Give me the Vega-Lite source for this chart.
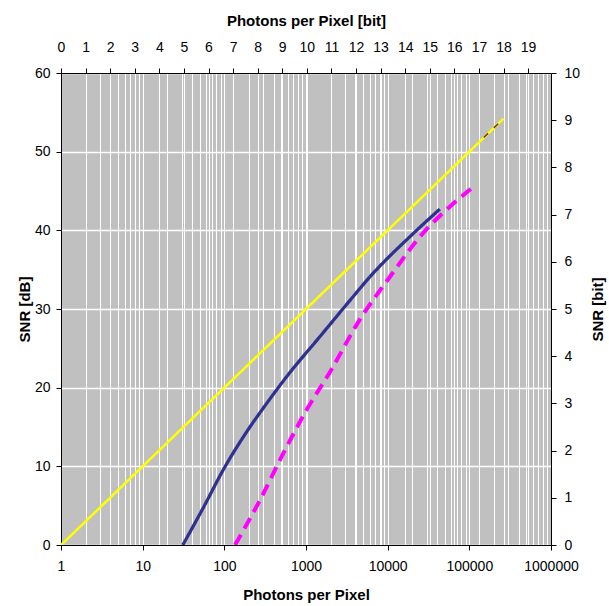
{
  "$schema": "https://vega.github.io/schema/vega-lite/v6.json",
  "width": 490,
  "height": 472,
  "autosize": {"type": "none"},
  "padding": {"left": 61, "top": 73, "right": 58, "bottom": 61},
  "background": "white",
  "config": {
    "view": {"fill": "#C0C0C0", "stroke": "black", "strokeWidth": 1},
    "axis": {
      "labelFont": "Liberation Sans",
      "titleFont": "Liberation Sans",
      "labelFontSize": 14,
      "titleFontSize": 15,
      "titleFontWeight": "bold",
      "labelColor": "black",
      "titleColor": "black",
      "domainColor": "black",
      "tickColor": "black",
      "labelFlush": false,
      "labelOverlap": false
    }
  },
  "datasets": {
    "curves": [
      {"series": "ideal", "N": 1, "dB": 0},
      {"series": "ideal", "N": 2, "dB": 3.0},
      {"series": "ideal", "N": 10, "dB": 10},
      {"series": "ideal", "N": 100, "dB": 20},
      {"series": "ideal", "N": 1000, "dB": 30},
      {"series": "ideal", "N": 10000, "dB": 40},
      {"series": "ideal", "N": 100000, "dB": 50},
      {"series": "ideal", "N": 262144, "dB": 54.2},
      {"series": "blue", "N": 31, "dB": 0},
      {"series": "blue", "N": 55, "dB": 4.7},
      {"series": "blue", "N": 100, "dB": 9.8},
      {"series": "blue", "N": 180, "dB": 14.1},
      {"series": "blue", "N": 330, "dB": 18.0},
      {"series": "blue", "N": 600, "dB": 21.6},
      {"series": "blue", "N": 1483, "dB": 26.5},
      {"series": "blue", "N": 3457, "dB": 31.1},
      {"series": "blue", "N": 6080, "dB": 34.1},
      {"series": "blue", "N": 20600, "dB": 39.6},
      {"series": "blue", "N": 43500, "dB": 42.7},
      {"series": "magenta", "N": 135, "dB": 0},
      {"series": "magenta", "N": 273, "dB": 5.7},
      {"series": "magenta", "N": 527, "dB": 11.65},
      {"series": "magenta", "N": 1019, "dB": 17.2},
      {"series": "magenta", "N": 1968, "dB": 22.0},
      {"series": "magenta", "N": 4400, "dB": 28.4},
      {"series": "magenta", "N": 10670, "dB": 34.1},
      {"series": "magenta", "N": 24900, "dB": 39.2},
      {"series": "magenta", "N": 63700, "dB": 43.4},
      {"series": "magenta", "N": 112000, "dB": 45.5}
    ],
    "overlay": [
      {"series": "dark", "N": 150000, "dB": 51.8},
      {"series": "dark", "N": 262144, "dB": 54.2}
    ]
  },
  "layer": [
    {
      "data": {"name": "curves"},
      "mark": {"type": "line", "clip": true, "interpolate": "monotone"},
      "encoding": {
        "x": {
          "field": "N",
          "type": "quantitative",
          "scale": {"type": "log", "domain": [1, 1000000], "nice": false},
          "axis": {
            "orient": "bottom",
            "title": "Photons per Pixel",
            "values": [1,2,3,4,5,6,7,8,9,10,20,30,40,50,60,70,80,90,100,200,300,400,500,600,700,800,900,1000,2000,3000,4000,5000,6000,7000,8000,9000,10000,20000,30000,40000,50000,60000,70000,80000,90000,100000,200000,300000,400000,500000,600000,700000,800000,900000,1000000],
            "labelExpr": "abs(log(datum.value)/LN10 - round(log(datum.value)/LN10)) < 0.001 ? format(datum.value, 'd') : ''",
            "tickOpacity": {"condition": {"test": "abs(log(datum.value)/LN10 - round(log(datum.value)/LN10)) < 0.001", "value": 1}, "value": 0},
            "grid": true,
            "gridColor": "white",
            "gridWidth": 1,
            "gridOpacity": 1,
            "tickSize": 5,
            "labelPadding": 9,
            "titlePadding": 14
          }
        },
        "y": {
          "field": "dB",
          "type": "quantitative",
          "scale": {"domain": [0, 60], "nice": false},
          "axis": {
            "orient": "left",
            "title": "SNR [dB]",
            "values": [0, 10, 20, 30, 40, 50, 60],
            "grid": true,
            "gridColor": "white",
            "gridWidth": 1.5,
            "gridOpacity": 1,
            "tickSize": 5,
            "labelPadding": 6,
            "titlePadding": 2
          }
        },
        "color": {
          "field": "series",
          "type": "nominal",
          "scale": {"domain": ["ideal", "blue", "magenta"], "range": ["#FFFF00", "#2E3192", "#FF00FF"]},
          "legend": null
        },
        "strokeWidth": {
          "field": "series",
          "type": "nominal",
          "scale": {"domain": ["ideal", "blue", "magenta"], "range": [2.5, 4, 2.8]},
          "legend": null
        },
        "strokeDash": {
          "field": "series",
          "type": "nominal",
          "scale": {"domain": ["ideal", "blue", "magenta"], "range": [[1, 0], [1, 0], [12, 7]]},
          "legend": null
        }
      }
    },
    {
      "data": {"name": "overlay"},
      "mark": {"type": "line", "color": "#6B3A1E", "strokeWidth": 1.5, "strokeDash": [6, 8], "clip": true},
      "encoding": {
        "x": {
          "field": "N",
          "type": "quantitative",
          "axis": {
            "orient": "top",
            "title": "Photons per Pixel [bit]",
            "values": [1,2,4,8,16,32,64,128,256,512,1024,2048,4096,8192,16384,32768,65536,131072,262144,524288],
            "labelExpr": "format(round(log(datum.value)/LN2), 'd')",
            "grid": true,
            "gridColor": "white",
            "gridWidth": 1,
            "gridOpacity": 1,
            "tickSize": 5,
            "labelPadding": 14,
            "titlePadding": 12
          }
        },
        "y": {
          "field": "dB",
          "type": "quantitative",
          "axis": {
            "orient": "right",
            "title": "SNR [bit]",
            "titleAngle": 270,
            "values": [0, 6, 12, 18, 24, 30, 36, 42, 48, 54, 60],
            "labelExpr": "format(datum.value/6, 'd')",
            "grid": false,
            "tickSize": 5,
            "labelPadding": 8,
            "titlePadding": 26
          }
        }
      }
    }
  ],
  "resolve": {"axis": {"x": "independent", "y": "independent"}}
}
